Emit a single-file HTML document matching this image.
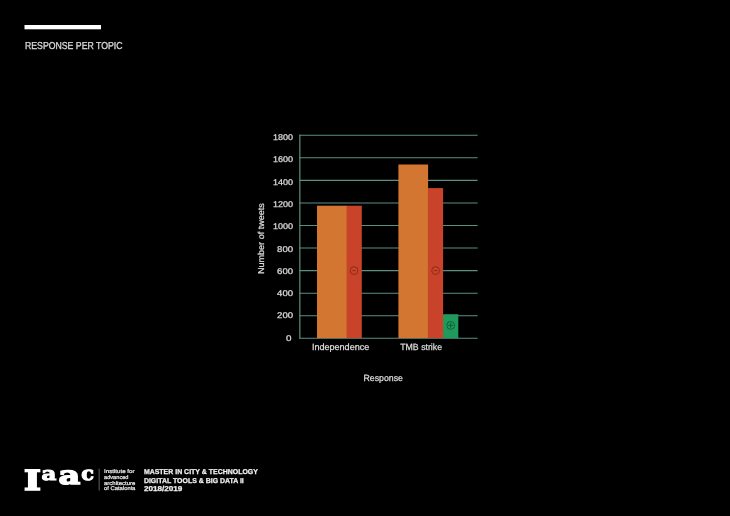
<!DOCTYPE html>
<html><head><meta charset="utf-8">
<style>
html,body{margin:0;padding:0;background:#000;}
body{width:730px;height:516px;overflow:hidden;}
svg{display:block;}
text{font-family:"Liberation Sans",sans-serif;text-rendering:geometricPrecision;}
.lab{font-size:8.3px;fill:#dedede;stroke:#dedede;stroke-width:0.25px;}
.xl{font-size:9px;}
.g{stroke:#5a9084;stroke-width:1.05;fill:none;}
.logo text{font-family:"DejaVu Serif",serif;font-weight:bold;font-size:20px;fill:#fff;stroke:#fff;stroke-linejoin:miter;}
.inst{font-size:5.4px;fill:#ececec;stroke:#ececec;stroke-width:0.22px;}
.foot{font-size:7.1px;font-weight:bold;fill:#f2f2f2;stroke:#f2f2f2;stroke-width:0.25px;}
</style></head><body>
<svg width="730" height="516" viewBox="0 0 730 516">
<rect width="730" height="516" fill="#000"/>
<rect x="24.5" y="25" width="76.5" height="4.3" fill="#fff"/>
<text x="25" y="49.3" textLength="97.5" lengthAdjust="spacingAndGlyphs" style="font-size:10.1px;fill:#d6d6d6;stroke:#d6d6d6;stroke-width:0.35px">RESPONSE PER TOPIC</text>
<path class="g" d="M299.3 135.25H477.6"/>
<path class="g" d="M299.3 157.81H477.6"/>
<path class="g" d="M299.3 180.37H477.6"/>
<path class="g" d="M299.3 202.93H477.6"/>
<path class="g" d="M299.3 225.49H477.6"/>
<path class="g" d="M299.3 248.05H477.6"/>
<path class="g" d="M299.3 270.61H477.6"/>
<path class="g" d="M299.3 293.17H477.6"/>
<path class="g" d="M299.3 315.73H477.6"/>
<path class="g" d="M299.3 338.29H477.6"/>
<path class="g" d="M299.85 134.7V338.8" style="stroke-width:1.2"/>
<rect x="317" y="205.7" width="30" height="132.4" fill="#d27631"/>
<rect x="346.6" y="205.7" width="15.2" height="132.4" fill="#c9432b"/>
<rect x="398.4" y="164.5" width="29.7" height="173.6" fill="#d27631"/>
<rect x="442.8" y="314.2" width="15.5" height="23.9" fill="#1f9a5c"/>
<rect x="427.9" y="188.1" width="15.2" height="150" fill="#c9432b"/>
<text class="lab" x="273.00" y="140.15" textLength="20.1" lengthAdjust="spacingAndGlyphs">1800</text>
<text class="lab" x="273.00" y="162.42" textLength="20.1" lengthAdjust="spacingAndGlyphs">1600</text>
<text class="lab" x="273.00" y="184.69" textLength="20.1" lengthAdjust="spacingAndGlyphs">1400</text>
<text class="lab" x="273.00" y="206.96" textLength="20.1" lengthAdjust="spacingAndGlyphs">1200</text>
<text class="lab" x="273.00" y="229.23" textLength="20.1" lengthAdjust="spacingAndGlyphs">1000</text>
<text class="lab" x="277.10" y="251.50" textLength="16.0" lengthAdjust="spacingAndGlyphs">800</text>
<text class="lab" x="277.10" y="273.77" textLength="16.0" lengthAdjust="spacingAndGlyphs">600</text>
<text class="lab" x="277.10" y="296.04" textLength="16.0" lengthAdjust="spacingAndGlyphs">400</text>
<text class="lab" x="277.10" y="318.31" textLength="16.0" lengthAdjust="spacingAndGlyphs">200</text>
<text class="lab" x="285.90" y="340.58" textLength="5.5" lengthAdjust="spacingAndGlyphs">0</text>
<text class="lab xl" x="311.9" y="350.4" textLength="57.4" lengthAdjust="spacingAndGlyphs">Independence</text>
<text class="lab xl" x="400.2" y="350.4" textLength="41.9" lengthAdjust="spacingAndGlyphs">TMB strike</text>
<text class="lab xl" x="363.5" y="380.5" textLength="39.4" lengthAdjust="spacingAndGlyphs">Response</text>
<text class="lab" transform="translate(264.2,274.1) rotate(-90)" textLength="71" lengthAdjust="spacingAndGlyphs" style="font-size:8.6px">Number of tweets</text>
<g fill="none" stroke="#7c2214" stroke-width="0.8" stroke-opacity="0.9">
<circle cx="354" cy="270.6" r="3.9"/><path d="M352.3 270.6H355.7"/>
<circle cx="435.6" cy="270.6" r="3.9"/><path d="M433.9 270.6H437.3"/>
</g>
<g fill="none" stroke="#0b5530" stroke-width="0.85" stroke-opacity="0.95">
<circle cx="450.7" cy="325.4" r="3.9"/><path d="M448.1 325.4H453.3M450.7 322.8V328"/>
</g>
<g class="logo">
<text transform="translate(23.96,490.07) scale(1.805,1.380)" stroke-width="1.2">I</text>
<text transform="translate(41.46,479.76) scale(1.148,0.934)" stroke-width="1.1">a</text>
<text transform="translate(58.60,483.66) scale(1.680,1.264)" stroke-width="1.1">a</text>
<text transform="translate(81.19,480.03) scale(1.043,0.967)" stroke-width="1.1">c</text>
</g>
<path d="M99.2 468.8V490.6" stroke="#4a4a4a" stroke-width="1.3"/>
<text class="inst" x="104" y="473.1" textLength="30.5" lengthAdjust="spacingAndGlyphs">Institute for</text>
<text class="inst" x="104" y="478.9" textLength="24.5" lengthAdjust="spacingAndGlyphs">advanced</text>
<text class="inst" x="104" y="484.7" textLength="31.4" lengthAdjust="spacingAndGlyphs">architecture</text>
<text class="inst" x="104" y="490.3" textLength="31.2" lengthAdjust="spacingAndGlyphs">of Catalonia</text>
<text class="foot" x="143.9" y="473.7" textLength="114" lengthAdjust="spacingAndGlyphs">MASTER IN CITY &amp; TECHNOLOGY</text>
<text class="foot" x="143.9" y="482.5" textLength="99.9" lengthAdjust="spacingAndGlyphs">DIGITAL TOOLS &amp; BIG DATA II</text>
<text class="foot" x="143.9" y="491.1" textLength="38.5" lengthAdjust="spacingAndGlyphs">2018/2019</text>
</svg>
</body></html>
